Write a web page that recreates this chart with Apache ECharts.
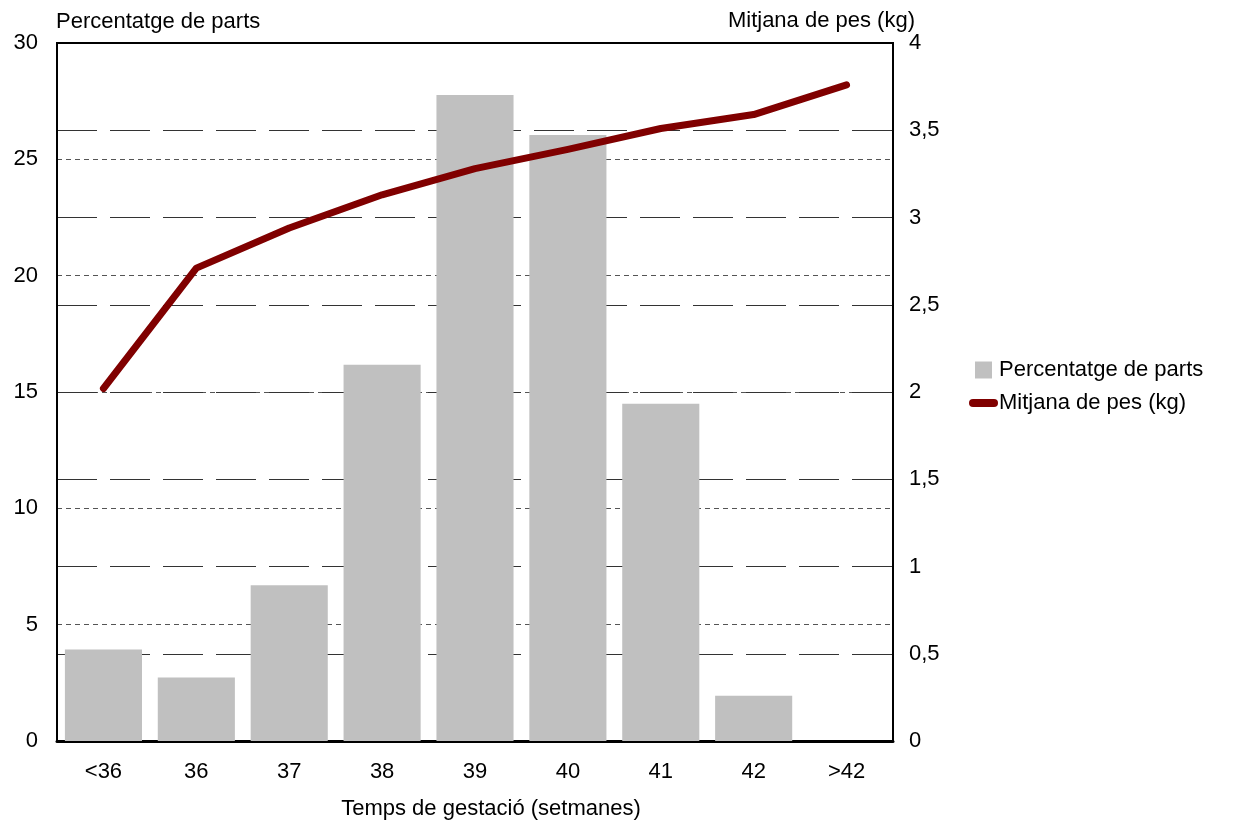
<!DOCTYPE html>
<html><head><meta charset="utf-8">
<script src="https://cdn.jsdelivr.net/npm/echarts@6/dist/echarts.min.js"></script>
<style>html,body{margin:0;padding:0;background:#fff}#c{width:1235px;height:825px}</style>
</head><body><div id="c"></div>
<script>
var categories = ['<36','36','37','38','39','40','41','42','>42'];
var percentParts = [3.93, 2.73, 6.69, 16.17, 27.77, 26.05, 14.5, 1.95, 0];
var meanWeight = [2.02, 2.71, 2.94, 3.13, 3.28, 3.39, 3.51, 3.59, 3.76];
var leftTicks = [0, 5, 10, 15, 20, 25, 30];
var rightTicks = [0, 0.5, 1, 1.5, 2, 2.5, 3, 3.5, 4];

var FONT = 'Liberation Sans';
var FS = 22;
function gridColors(ticks, c) {
  return ticks.map(function (t, i) { return (i === 0 || i === ticks.length - 1) ? '#000' : c; });
}
var chart = echarts.init(document.getElementById('c'));
chart.setOption({
  animation: false,
  backgroundColor: '#fff',
  textStyle: { fontFamily: FONT },
  grid: { left: 57, right: 342, top: 43, bottom: 84, show: true, borderColor: '#000', borderWidth: 2, backgroundColor: 'transparent' },
  legend: {
    orient: 'vertical', left: 964, top: 354, itemGap: 11, itemWidth: 29, itemHeight: 17,
    textStyle: { fontFamily: FONT, fontSize: FS, color: '#000', padding: [0, 0, 0, -4] },
    data: [
      { name: 'Percentatge de parts', icon: 'path://M0,0 H17 V17 H0 Z', itemStyle: { color: '#c0c0c0' } },
      { name: 'Mitjana de pes (kg)', icon: 'path://M4,0 H25 A4,4 0 0 1 25,8 H4 A4,4 0 0 1 4,0 Z', itemStyle: { color: '#800000' } }
    ]
  },
  xAxis: {
    type: 'category', data: categories,
    axisLine: { lineStyle: { color: '#000', width: 3 } },
    axisTick: { show: false },
    axisLabel: { fontSize: FS, color: '#000', margin: 20, fontFamily: FONT },
    name: 'Temps de gestació (setmanes)', nameLocation: 'middle', nameGap: 57,
    nameTextStyle: { fontSize: FS, color: '#000', fontFamily: FONT, padding: [0, 0, 0, 32] }
  },
  yAxis: [
    {
      type: 'value', min: 0, max: 30, interval: 5, position: 'left',
      name: 'Percentatge de parts', nameLocation: 'end', nameGap: 10,
      nameTextStyle: { fontSize: FS, color: '#000', align: 'left', fontFamily: FONT, padding: [0, 0, 0, -1] },
      axisLine: { show: true, lineStyle: { color: '#000', width: 2 } },
      axisTick: { show: false },
      axisLabel: { fontSize: FS, color: '#000', margin: 19, fontFamily: FONT, padding: [8, 0, 0, 0] },
      splitLine: { show: true, lineStyle: { color: gridColors(leftTicks, '#555'), width: 1, type: [5, 4] } }
    },
    {
      type: 'value', min: 0, max: 4, interval: 0.5, position: 'right',
      name: 'Mitjana de pes (kg)', nameLocation: 'end', nameGap: 10,
      nameTextStyle: { fontSize: FS, color: '#000', align: 'right', fontFamily: FONT, padding: [0, -22, 0, 0] },
      axisLine: { show: true, lineStyle: { color: '#000', width: 2 } },
      axisTick: { show: false },
      axisLabel: { fontSize: FS, color: '#000', margin: 16, fontFamily: FONT, padding: [8, 0, 0, 0],
        formatter: function (v) { return String(v).replace('.', ','); } },
      splitLine: { show: true, lineStyle: { color: gridColors(rightTicks, '#333'), width: 1, type: [40, 13] } }
    }
  ],
  series: [
    {
      name: 'Percentatge de parts', type: 'bar', yAxisIndex: 0, data: percentParts,
      barCategoryGap: '17%', itemStyle: { color: '#c0c0c0' }
    },
    {
      name: 'Mitjana de pes (kg)', type: 'line', yAxisIndex: 1, data: meanWeight,
      symbol: 'none', lineStyle: { color: '#800000', width: 7, cap: 'round', join: 'round' },
      itemStyle: { color: '#800000' }
    }
  ]
});
</script></body></html>
